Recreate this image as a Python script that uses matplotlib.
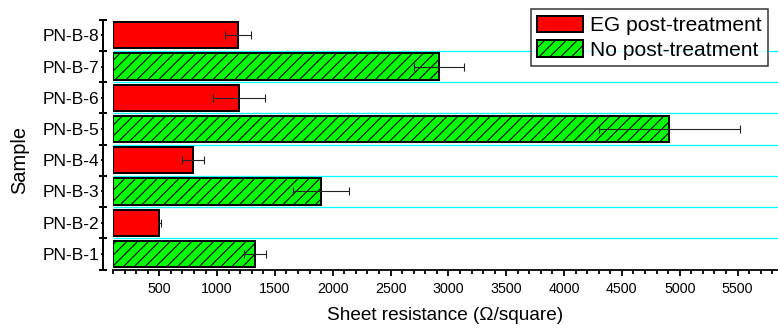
import numpy as np
import matplotlib
matplotlib.use("Agg")
import matplotlib.pyplot as plt
from matplotlib.ticker import MultipleLocator, FixedLocator, NullFormatter
from matplotlib.patches import Patch

####################################################################################################################
# Data

samples = ["PN-B-1", "PN-B-2", "PN-B-3", "PN-B-4", "PN-B-5", "PN-B-6", "PN-B-7", "PN-B-8"]
resistance = [1330, 500, 1900, 790, 4910, 1190, 2920, 1180]
resistance_err = [95, 15, 240, 95, 610, 225, 215, 110]
treated = [False, True, False, True, False, True, False, True]   # True: EG post-treatment

label_eg = "EG post-treatment"
label_none = "No post-treatment"

####################################################################################################################
# Settings

dpi = 130
px = 72 / dpi          # one pixel in points

plt.rcParams['font.family'] = ['Liberation Sans', 'DejaVu Sans']
plt.rcParams['hatch.linewidth'] = 1.1 * px
plt.rcParams['hatch.color'] = 'black'

xmin, xmax = 100, 5850
bar_height = 0.84
hatch = '////'

fig = plt.figure(figsize=(778 / dpi, 329 / dpi), dpi=dpi)
ax = fig.add_axes([113 / 778, 59.5 / 329, 665 / 778, 249.8 / 329])

y = np.arange(1, len(samples) + 1)

####################################################################################################################
# Bars

for yi, val, eg in zip(y, resistance, treated):
    if eg:
        ax.barh(yi, val - xmin, left=xmin, height=bar_height, color='#ff0000',
                edgecolor='black', linewidth=2 * px, zorder=2)
    else:
        ax.barh(yi, val - xmin, left=xmin, height=bar_height, color='#00ff00',
                edgecolor='black', linewidth=2 * px, hatch=hatch, zorder=2)

ax.errorbar(resistance, y, xerr=resistance_err, fmt='none', ecolor='#222222',
            elinewidth=1.1 * px, capsize=4.3 * px, capthick=1.1 * px, zorder=3)

# cyan separators between samples
boundaries = np.arange(0.5, len(samples) + 1, 1.0)
ax.hlines(boundaries[1:-1], xmin, xmax, colors='#00ffff', linewidth=1.3 * px, zorder=1)

####################################################################################################################
# Axes

ax.set_xlim(xmin, xmax)
ax.set_ylim(0.5, len(samples) + 0.5)

ax.xaxis.set_major_locator(MultipleLocator(500))
ax.xaxis.set_minor_locator(MultipleLocator(100))
ax.set_yticks(y)
ax.set_yticklabels(samples)
ax.yaxis.set_minor_locator(FixedLocator(boundaries))
ax.yaxis.set_minor_formatter(NullFormatter())

for s in ['top', 'right']:
    ax.spines[s].set_visible(False)
ax.spines['left'].set_position(('outward', 10.5 * px))
ax.spines['left'].set_linewidth(2 * px)
ax.spines['bottom'].set_linewidth(1.8 * px)

ax.tick_params(axis='x', which='major', direction='out', length=6 * px, width=1.8 * px,
               labelsize=14.2 * px, pad=6.3 * px)
ax.tick_params(axis='x', which='minor', direction='out', length=4 * px, width=1.8 * px)
ax.tick_params(axis='y', which='major', direction='out', length=2.5 * px, width=1.8 * px,
               labelsize=17.4 * px, pad=1 * px)
ax.tick_params(axis='y', which='minor', direction='inout', length=7 * px, width=2 * px)

ax.set_xlabel("Sheet resistance (\u03a9/square)", fontsize=19 * px, labelpad=11 * px)
ax.set_ylabel("Sample", fontsize=20 * px)
ax.yaxis.set_label_coords(-0.126, 0.44)

####################################################################################################################
# Legend

handles = [Patch(facecolor='#ff0000', edgecolor='black', linewidth=2 * px, label=label_eg),
           Patch(facecolor='#00ff00', edgecolor='black', linewidth=2 * px, hatch=hatch, label=label_none)]
leg = ax.legend(handles=handles, loc='upper right', bbox_to_anchor=(768 / 778, 1 - 9.3 / 329),
                bbox_transform=fig.transFigure, borderaxespad=0, fontsize=21 * px,
                frameon=True, fancybox=False, handlelength=2.2, handleheight=0.84,
                handletextpad=0.33, labelspacing=0.25, borderpad=0.3)
leg.get_frame().set_edgecolor('black')
leg.get_frame().set_linewidth(1.5 * px)
leg.set_zorder(5)

fig.savefig("out.png", dpi=dpi)
